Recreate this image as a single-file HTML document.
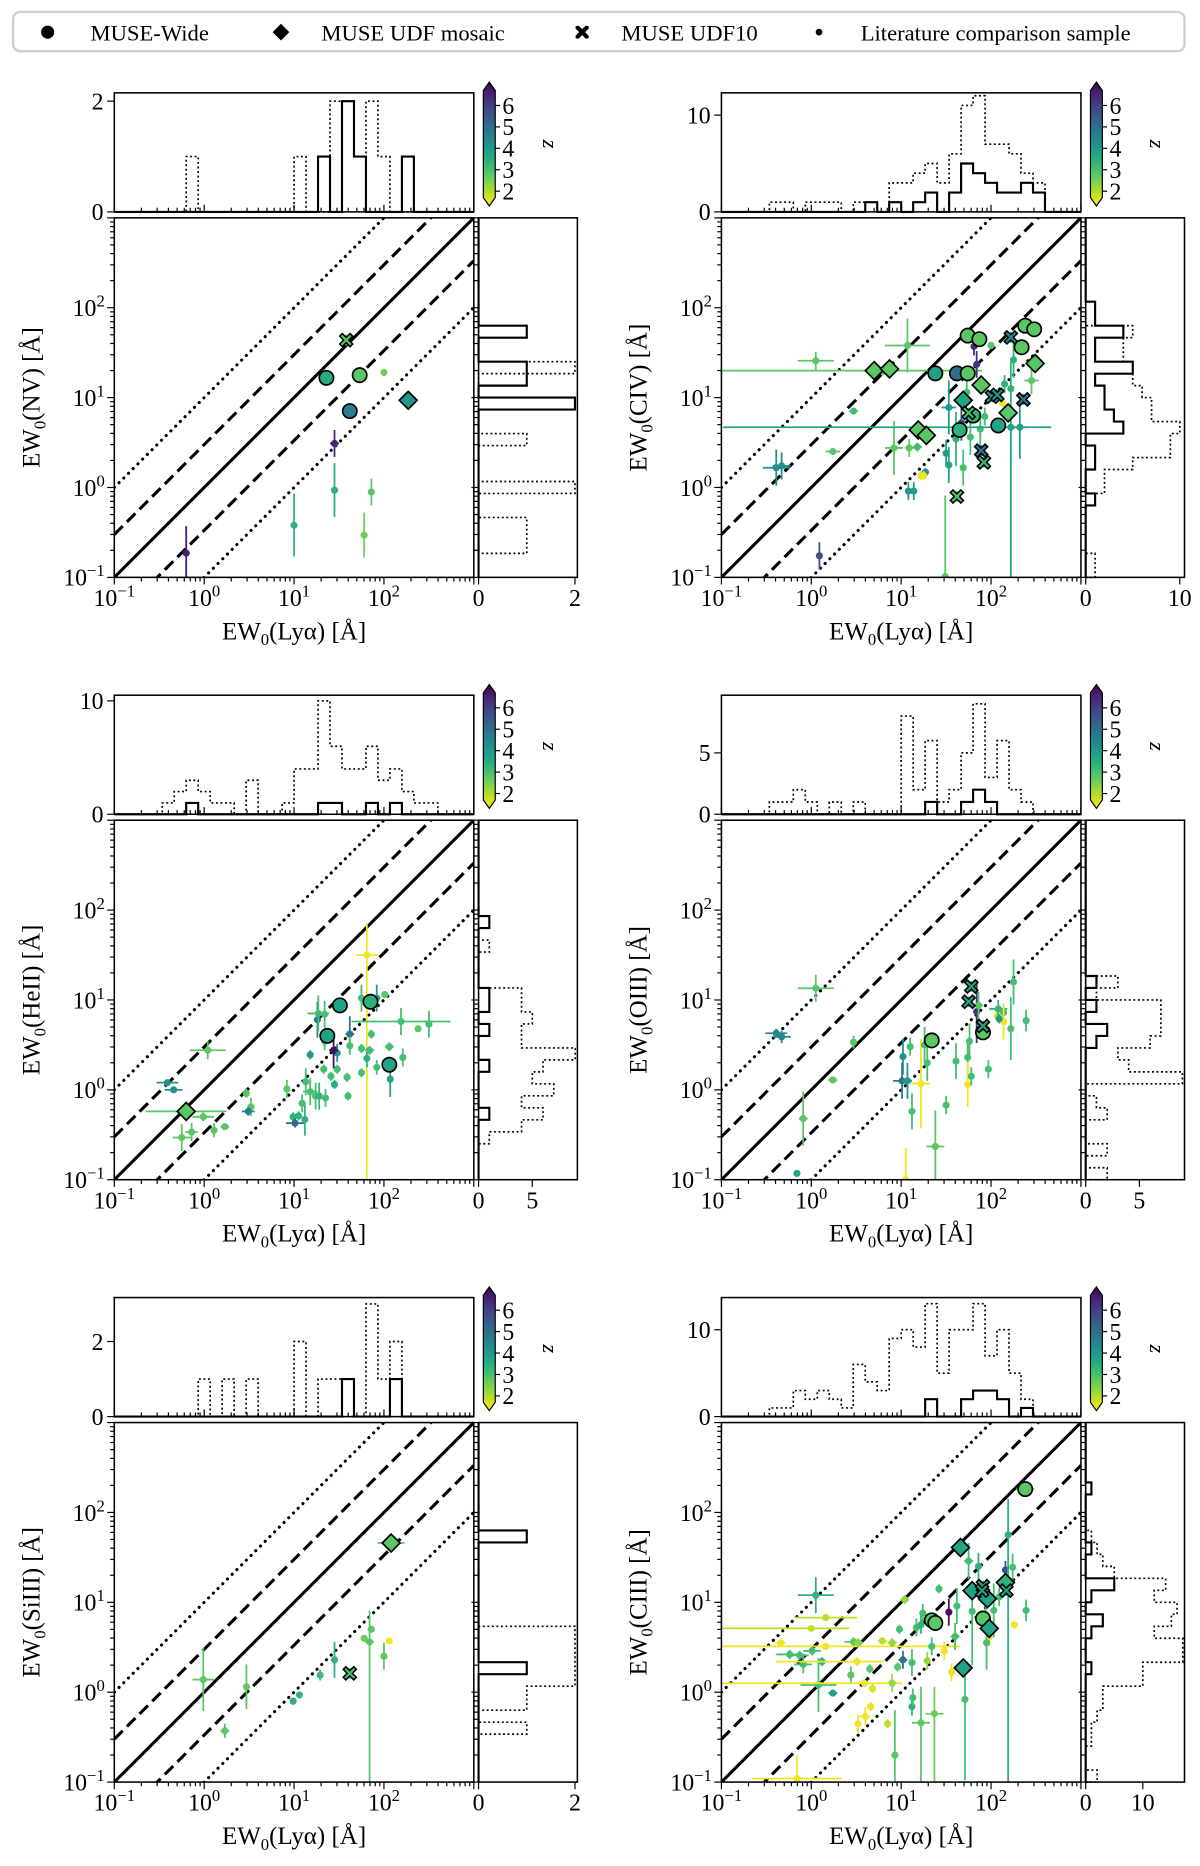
<!DOCTYPE html>
<html><head><meta charset="utf-8"><style>
html,body{margin:0;padding:0;background:#fff}
svg{display:block}
text{font-family:"Liberation Serif","DejaVu Serif",serif;fill:#000}
</style></head><body>
<svg id="fig" xmlns="http://www.w3.org/2000/svg" width="1200" height="1866" viewBox="0 0 1008 1567.5">
<g>
<rect x="11" y="10" width="984" height="33" rx="6" fill="#fff" stroke="#d0d0d0" stroke-width="2"/>
<circle cx="40" cy="27" r="5.5" fill="#000"/>
<text x="76" y="34" font-size="19">MUSE-Wide</text>
<path d="M236 20 L243 27 L236 34 L229 27 Z" fill="#000"/>
<text x="270" y="34" font-size="19">MUSE UDF mosaic</text>
<path d="M483.5 22 L486 21.5 L489 24.5 L492 21.5 L494.5 22 L494.5 24 L491.5 27 L494.5 30 L494.5 32 L492 32.5 L489 29.5 L486 32.5 L483.5 32 L483.5 30 L486.5 27 L483.5 24 Z" fill="#000"/>
<text x="522" y="34" font-size="19">MUSE UDF10</text>
<circle cx="688" cy="27" r="2.8" fill="#000"/>
<text x="723" y="34" font-size="19">Literature comparison sample</text>
</g>
</svg>
<script>
// ---------- DATA (log10 EW values; z redshift) ----------
// point format: [log EW(Lya), log EW(line), z, xerr(dex or [lo,hi]), yerr(dex or [lo,hi])]
const nvWide=[[1.36,1.22,3.6],[1.73,1.25,3.0],[1.62,0.85,4.6]];
const nvMosaic=[[2.27,0.97,4.1]];
const nvUdf10=[[1.58,1.64,3.0]];
const nvLit=[[-0.2,-0.73,6.3,0.02,0.3],[1.45,0.49,6.2,0.05,0.15],[1.0,-0.42,3.5,0.02,0.35],[1.45,-0.03,3.5,0.02,0.3],[1.86,-0.05,3.0,0.02,0.15],[1.78,-0.53,2.8,0.02,0.25],[2.0,1.28,2.8,0.02,0.04]];

const civWide=[[1.74,1.69,3.0],[1.87,1.65,3.0],[2.38,1.8,3.0],[2.48,1.76,3.0],[2.34,1.56,3.0],[1.38,1.27,3.9],[1.62,1.27,4.9],[1.74,1.27,3.0],[1.65,0.64,3.5],[2.08,0.69,3.8],[1.8,0.8,3.5]];
const civMosaic=[[0.7,1.3,3.0],[0.87,1.32,3.0],[1.89,1.14,3.0],[1.69,0.97,3.8],[2.19,0.83,3.0],[2.49,1.38,3.0],[1.19,0.64,3.0],[1.28,0.58,3.0]];
const civUdf10=[[2.22,1.67,4.4],[2.01,1.01,4.0],[2.07,1.03,4.0],[2.36,0.98,4.8],[1.75,0.83,3.2],[1.89,0.41,4.8],[1.92,0.28,3.4],[1.62,-0.1,3.0]];
const civLit=[[0.05,1.41,3.0,0.2,0.1],[1.07,1.58,3.0,0.25,0.3],[0.8,1.3,3.0,[1.8,1.1],0.05],[0.47,0.85,3.2,0.05,0.03],[0.24,0.4,3.0,0.08,0.03],[-0.39,0.22,4.3,0.15,0.2],[-0.33,0.24,4.3,0.1,0.15],[0.09,-0.76,5.5,0.02,0.15],[0.92,0.44,3.0,0.1,0.3],[1.09,0.44,3.0,0.05,0.1],[1.18,0.45,3.2,0.05,0.05],[1.22,0.13,1.9,0.03,0.05],[1.27,0.17,4.0,0.03,0.05],[1.08,-0.04,4.0,0.03,0.1],[1.14,-0.04,4.0,0.03,0.1],[1.53,0.89,4.0,0.08,0.3],[1.5,0.38,4.0,0.03,0.15],[1.53,0.25,3.8,0.03,0.2],[1.61,0.54,3.5,0.03,0.3],[1.69,0.22,3.2,0.03,0.2],[1.73,1.06,3.2,0.03,0.15],[1.84,1.37,6.0,0.03,0.15],[1.81,1.57,6.2,0.03,0.1],[1.67,0.72,5.5,0.03,0.2],[2.0,1.58,3.0,0.03,0.03],[2.15,1.15,3.5,0.03,0.1],[2.22,1.1,3.5,0.03,0.3],[2.25,1.42,3.5,0.03,0.2],[2.45,1.19,3.0,0.08,0.15],[2.13,0.94,1.8,0.03,0.05],[1.93,0.79,3.2,0.03,0.1],[1.88,0.65,3.2,0.03,0.2],[1.77,0.56,3.2,0.03,0.2],[2.32,0.67,4.0,0.1,0.35],[2.22,0.67,3.8,[3.2,0.45],[1.7,0.1]],[1.49,-0.99,3.0,0.02,[0.0,0.9]],[1.25,0.13,1.8,0.03,0.05]];

const heiiWide=[[1.51,0.94,3.8],[1.85,0.98,3.5],[1.37,0.6,3.8],[2.06,0.28,3.8]];
const heiiMosaic=[[-0.2,-0.24,3.0,0.45,0.04]];
const heiiUdf10=[];
const heiiLit=[[1.81,1.5,1.8,0.12,[2.5,0.35]],[0.04,0.44,3.0,0.2,0.1],[-0.41,0.08,4.2,0.12,0.03],[-0.34,0.0,4.2,0.1,0.03],[-0.01,-0.3,3.0,0.12,0.05],[-0.25,-0.53,3.0,0.1,0.15],[-0.14,-0.47,3.0,0.07,0.1],[0.11,-0.45,3.0,0.03,0.08],[0.23,-0.41,3.0,0.05,0.03],[0.47,-0.04,3.0,0.02,0.05],[0.52,-0.19,3.0,0.02,0.1],[0.49,-0.24,4.5,0.07,0.05],[0.92,0.01,3.0,0.03,0.1],[0.99,-0.3,3.5,0.02,0.05],[1.05,-0.29,3.5,0.02,0.05],[1.01,-0.37,5.0,0.1,0.05],[1.12,-0.33,3.5,0.03,0.18],[1.09,-0.15,3.2,0.03,0.1],[1.13,0.09,3.2,0.03,0.15],[1.18,-0.02,3.2,0.08,0.15],[1.24,-0.07,3.2,0.03,0.15],[1.28,-0.07,3.5,0.03,0.15],[1.35,-0.09,3.2,0.03,0.1],[1.18,0.39,4.0,0.02,0.05],[1.26,0.78,4.6,0.03,0.2],[1.27,0.85,3.2,0.12,0.2],[1.34,0.84,3.2,0.03,0.15],[1.33,0.23,3.2,0.02,0.05],[1.34,0.54,3.2,0.02,0.1],[1.41,0.15,3.2,0.02,0.05],[1.45,0.06,3.6,0.02,0.05],[1.48,0.41,4.2,0.03,0.1],[1.48,0.23,3.2,0.02,0.05],[1.44,0.44,6.5,0.05,0.2],[1.59,0.14,3.2,0.02,0.05],[1.6,-0.07,3.2,0.02,0.05],[1.62,0.62,4.8,0.05,0.2],[1.62,0.49,3.2,0.02,0.1],[1.75,0.46,3.2,0.02,0.05],[1.75,1.02,3.2,0.03,0.15],[1.75,0.19,3.2,0.02,0.05],[1.81,0.35,3.6,0.02,0.1],[1.84,0.44,3.2,0.05,0.05],[1.86,0.62,3.2,0.02,0.05],[1.92,0.25,3.2,0.02,0.08],[1.92,1.02,4.0,0.03,0.15],[2.01,1.06,3.0,0.02,0.03],[2.06,0.48,3.2,0.05,0.05],[2.07,0.12,3.8,0.02,0.2],[2.21,0.36,3.2,0.02,0.1],[2.19,0.76,3.2,0.55,0.15],[2.38,0.68,3.0,0.02,0.03],[2.5,0.73,3.2,0.02,0.15],[2.06,0.27,1.9,0.02,0.03]];

const oiiiWide=[[1.34,0.55,3.0],[1.91,0.64,3.0]];
const oiiiMosaic=[];
const oiiiUdf10=[[1.78,1.15,3.8],[1.75,0.98,3.8],[1.91,0.71,3.8]];
const oiiiLit=[[0.05,1.13,3.0,0.2,0.15],[-0.39,0.63,4.4,0.12,0.05],[-0.33,0.59,4.4,0.1,0.07],[0.47,0.53,3.0,0.03,0.07],[0.24,0.11,3.0,0.05,0.02],[-0.09,-0.32,3.0,0.05,0.3],[-0.16,-0.93,3.8,0.01,0.01],[1.02,0.37,4.2,0.02,0.2],[1.01,0.1,4.8,0.1,0.2],[1.07,0.1,4.0,0.05,0.2],[1.1,0.48,3.2,0.03,0.1],[1.12,-0.24,3.2,0.02,0.2],[1.22,0.07,1.8,0.1,0.5],[1.26,0.5,3.2,0.02,0.2],[1.29,0.3,3.2,0.02,0.2],[1.38,-0.63,3.0,0.1,0.4],[1.5,-0.17,3.2,0.02,0.1],[1.61,0.32,3.2,0.02,0.2],[1.74,0.36,3.2,0.02,0.2],[1.74,0.06,1.8,0.02,0.25],[1.76,0.54,3.2,0.02,0.2],[1.78,0.15,3.2,0.02,0.1],[1.84,0.87,6.0,0.02,0.35],[1.86,0.94,3.0,0.05,0.15],[1.97,0.23,3.2,0.02,0.1],[2.07,0.82,2.0,0.02,0.05],[2.08,0.9,3.4,0.1,0.1],[2.14,0.86,3.2,0.02,0.1],[2.14,0.76,1.8,0.02,0.2],[2.09,0.79,4.0,0.02,0.05],[2.22,0.68,3.2,0.02,0.35],[2.25,1.2,3.2,0.03,0.25],[2.39,0.77,3.2,0.02,0.12],[1.05,-1.0,1.8,0.01,[0,0.35]]];

const siiiiWide=[];
const siiiiMosaic=[[2.08,1.66,3.0,0.15,0.05]];
const siiiiUdf10=[[1.62,0.21,3.2]];
const siiiiLit=[[-0.01,0.14,3.0,0.12,0.35],[0.23,-0.43,3.0,0.05,0.08],[0.47,0.06,3.0,0.02,0.25],[0.99,-0.1,3.5,0.02,0.04],[1.06,-0.03,3.5,0.02,0.03],[1.29,0.19,3.3,0.02,0.06],[1.45,0.36,3.5,0.02,0.2],[1.78,0.6,2.8,0.02,0.03],[1.86,0.7,3.0,0.02,0.03],[1.84,0.56,3.0,0.05,[1.6,0.35]],[2.0,0.4,3.0,0.02,0.15],[2.06,0.57,1.8,0.02,0.02]];

const ciiiWide=[[2.38,2.26,3.0,0.1,0.03],[1.34,0.8,3.0],[1.38,0.77,3.0],[1.91,0.82,3.0]];
const ciiiMosaic=[[1.66,1.61,3.8,0.1,0.05],[1.79,1.13,3.8],[1.96,1.04,3.8],[1.98,0.71,3.8],[1.69,0.27,3.8],[2.16,1.22,3.5]];
const ciiiUdf10=[[1.91,1.18,3.8],[1.9,1.13,3.8],[2.17,1.13,3.8]];
const ciiiLit=[[0.05,1.08,3.5,0.2,0.2],[0.16,0.83,2.2,0.35,0.02],[0.0,0.71,2.2,[1.0,0.42],0.0],[-0.34,0.55,1.8,0.05,0.02],[0.16,0.51,1.8,[1.16,1.5],0.0],[-0.24,0.42,3.2,0.15,0.05],[-0.13,0.41,3.2,0.1,0.05],[-0.09,0.31,3.2,0.1,0.1],[0.01,0.46,3.2,0.1,0.05],[0.12,0.34,3.5,0.05,0.05],[0.08,0.08,3.2,0.2,0.3],[0.24,-0.01,3.8,0.05,0.02],[0.44,0.19,3.0,0.02,0.1],[0.51,0.34,1.8,[0.9,0.3],0.05],[0.47,0.56,3.0,0.1,0.05],[0.52,0.55,2.6,0.05,0.05],[0.59,0.1,1.8,[1.6,0.42],0.05],[0.65,0.26,3.0,0.02,0.05],[0.68,0.04,2.0,0.02,0.05],[0.66,-0.16,1.8,0.02,0.05],[0.6,-0.27,1.8,0.06,0.1],[0.52,-0.35,1.8,0.02,0.1],[0.79,0.57,2.2,0.05,0.02],[0.9,0.55,2.5,0.05,0.05],[0.9,0.1,2.5,0.02,0.1],[0.85,-0.35,2.2,0.02,0.05],[0.93,-0.7,3.0,0.02,[0.3,0.5]],[0.98,0.7,3.2,0.02,0.05],[0.96,0.28,3.0,0.02,0.05],[1.02,0.36,4.8,0.05,0.1],[1.04,1.03,2.5,0.05,0.05],[1.12,0.33,3.2,0.02,0.15],[1.12,-0.16,3.5,0.02,0.1],[1.13,-0.06,3.2,0.02,0.1],[1.22,-0.34,3.0,0.1,[0.7,0.4]],[1.17,0.72,3.2,0.02,0.1],[1.22,0.75,3.5,0.02,0.1],[1.24,0.88,3.2,0.02,0.1],[1.29,0.35,2.5,0.02,0.1],[1.34,0.51,3.2,0.02,0.1],[1.37,-0.24,2.8,0.1,[0.8,0.3]],[1.42,1.15,3.2,0.02,0.05],[1.48,0.46,1.8,0.02,0.1],[1.53,0.89,6.5,0.02,0.15],[1.56,0.22,1.8,0.02,0.1],[1.6,0.62,3.2,0.05,0.15],[1.62,0.96,3.2,0.02,0.2],[1.71,-0.08,3.2,0.02,[0.9,0.3]],[1.75,1.46,3.2,0.05,0.2],[1.79,0.9,3.2,0.02,[0.6,0.3]],[1.86,1.4,3.5,0.02,0.15],[1.94,0.85,3.2,0.02,0.2],[1.98,0.61,1.8,0.02,0.1],[2.03,0.91,3.2,0.02,0.3],[2.09,1.06,3.2,0.05,0.1],[2.16,1.36,5.5,0.02,0.1],[2.19,1.75,3.5,0.02,[2.75,0.4]],[2.24,1.39,3.2,0.02,0.15],[2.26,0.75,1.8,0.02,0.03],[2.39,0.91,3.2,0.02,0.12],[-0.16,-0.96,1.8,0.5,0.25],[1.95,0.55,3.2,0.02,0.3]];

// histogram counts, 30 log bins from 10^-1 to 10^3
const nvTopSolid=[0,0,0,0,0,0,0,0,0,0,0,0,0,0,0,0,0,1,0,2,1,0,0,0,1,0,0,0,0,0];
const nvTopDot=[0,0,0,0,0,0,1,0,0,0,0,0,0,0,0,1,0,0,2,2,1,2,1,0,0,0,0,0,0,0];
const nvRightSolid=[0,0,0,0,0,0,0,0,0,0,0,0,0,0,2,0,1,1,0,0,1,0,0,0,0,0,0,0,0,0];
const nvRightDot=[0,0,1,1,1,0,0,2,0,0,0,1,0,0,0,0,0,2,0,0,0,0,0,0,0,0,0,0,0,0];
const civTopSolid=[0,0,0,0,0,0,0,0,0,0,0,0,1,0,1,0,1,2,0,2,5,4,3,2,2,3,2,0,0,0];
const civTopDot=[0,0,0,0,1,1,0,1,1,1,0,1,1,0,3,3,4,5,3,6,11,12,7,7,6,4,3,0,0,0];
const civRightSolid=[0,0,0,0,0,0,1,0,0,1,1,0,4,3,2,2,1,5,1,1,4,1,1,0,0,0,0,0,0,0];
const civRightDot=[1,1,0,0,0,0,1,2,2,5,9,9,10,7,7,6,5,5,4,4,5,0,0,0,0,0,0,0,0,0];
const heiiTopSolid=[0,0,0,0,0,0,1,0,0,0,0,0,0,0,0,0,0,1,1,0,0,1,0,1,0,0,0,0,0,0];
const heiiTopDot=[0,0,0,0,1,2,3,2,1,1,0,3,0,0,1,4,4,10,6,4,4,6,3,4,2,1,1,0,0,0];
const heiiRightSolid=[0,0,0,0,0,1,0,0,0,1,0,0,1,0,1,1,0,0,0,0,0,1,0,0,0,0,0,0,0,0];
const heiiRightDot=[0,0,0,1,4,6,4,7,5,6,9,4,4,5,4,4,0,0,0,1,0,0,0,0,0,0,0,0,0,0];
const oiiiTopSolid=[0,0,0,0,0,0,0,0,0,0,0,0,0,0,0,0,0,1,0,0,1,2,1,0,0,0,0,0,0,0];
const oiiiTopDot=[0,0,0,0,1,1,2,1,0,1,0,1,0,0,0,8,2,6,1,2,5,9,3,6,2,1,0,0,0,0];
const oiiiRightSolid=[0,0,0,0,0,0,0,0,0,0,0,1,2,0,1,0,1,0,0,0,0,0,0,0,0,0,0,0,0,0];
const oiiiRightDot=[2,0,2,0,0,2,1,0,9,4,3,6,7,7,7,1,3,0,0,0,0,0,0,0,0,0,0,0,0,0];
const siiiiTopSolid=[0,0,0,0,0,0,0,0,0,0,0,0,0,0,0,0,0,0,0,1,0,0,0,1,0,0,0,0,0,0];
const siiiiTopDot=[0,0,0,0,0,0,0,1,0,1,0,1,0,0,0,2,0,1,1,0,0,3,1,2,0,0,0,0,0,0];
const siiiiRightSolid=[0,0,0,0,0,0,0,0,0,1,0,0,0,0,0,0,0,0,0,0,1,0,0,0,0,0,0,0,0,0];
const siiiiRightDot=[0,0,0,0,1,0,1,1,2,2,2,2,2,0,0,0,0,0,0,0,0,0,0,0,0,0,0,0,0,0];
const ciiiTopSolid=[0,0,0,0,0,0,0,0,0,0,0,0,0,0,0,0,0,2,0,0,2,3,3,2,0,1,0,0,0,0];
const ciiiTopDot=[0,0,0,0,1,1,3,2,3,2,1,6,4,3,9,10,8,13,5,10,10,13,7,10,5,2,0,0,0,0];
const ciiiRightSolid=[0,0,0,0,0,0,0,0,0,1,0,0,1,3,0,1,5,0,0,1,0,0,0,0,1,0,0,0,0,0];
const ciiiRightDot=[2,0,0,1,1,2,3,3,10,10,17,17,12,15,16,12,14,5,3,2,1,0,0,0,0,0,0,0,0,0];

const mainTicks=[-1,0,1,2,3];
const labelledTicks=[-1,0,1,2];
const zTicks=[2,3,4,5,6];
const nvHistTicks=[0,2], civHistTicks=[0,10], heiiTopTicks=[0,10], heiiRightTicks=[0,5], oiiiHistTicks=[0,5], siiiiHistTicks=[0,2], ciiiHistTicks=[0,10];

// ---------- RENDERING ----------
const NS="http://www.w3.org/2000/svg";
const svg=document.getElementById('fig');
function mk(tag,attrs,parent){const e=document.createElementNS(NS,tag);for(const k in attrs)e.setAttribute(k,attrs[k]);(parent||svg).appendChild(e);return e;}
const VMIN=1.7,VMAX=6.7;
const VIR=["#440154","#482475","#414487","#355f8d","#2a788e","#21918c","#22a884","#44bf70","#7ad151","#bddf26","#fde725"];
function hex(h){return [parseInt(h.substr(1,2),16),parseInt(h.substr(3,2),16),parseInt(h.substr(5,2),16)];}
function zcol(z){let t=1-(z-VMIN)/(VMAX-VMIN);t=Math.max(0,Math.min(1,t));const f=t*10,i=Math.min(9,Math.floor(f)),u=f-i;const a=hex(VIR[i]),b=hex(VIR[i+1]);return 'rgb('+a.map((v,k)=>Math.round(v+(b[k]-v)*u)).join(',')+')';}

const LO=-1,HI=3,NB=30,W=302,TH=100;
const panels=[
 {key:'nv',label:'NV',x0:96,y0:183,wide:nvWide,mos:nvMosaic,udf:nvUdf10,lit:nvLit,ts:nvTopSolid,td:nvTopDot,rs:nvRightSolid,rd:nvRightDot,tmax:2.15,rmax:2.05,tt:nvHistTicks,rt:nvHistTicks},
 {key:'civ',label:'CIV',x0:606,y0:183,wide:civWide,mos:civMosaic,udf:civUdf10,lit:civLit,ts:civTopSolid,td:civTopDot,rs:civRightSolid,rd:civRightDot,tmax:12.3,rmax:10.5,tt:civHistTicks,rt:civHistTicks},
 {key:'heii',label:'HeII',x0:96,y0:689,wide:heiiWide,mos:heiiMosaic,udf:heiiUdf10,lit:heiiLit,ts:heiiTopSolid,td:heiiTopDot,rs:heiiRightSolid,rd:heiiRightDot,tmax:10.5,rmax:9.2,tt:heiiTopTicks,rt:heiiRightTicks},
 {key:'oiii',label:'OIII',x0:606,y0:689,wide:oiiiWide,mos:oiiiMosaic,udf:oiiiUdf10,lit:oiiiLit,ts:oiiiTopSolid,td:oiiiTopDot,rs:oiiiRightSolid,rd:oiiiRightDot,tmax:9.7,rmax:9.2,tt:oiiiHistTicks,rt:oiiiHistTicks},
 {key:'siiii',label:'SiIII',x0:96,y0:1195,wide:siiiiWide,mos:siiiiMosaic,udf:siiiiUdf10,lit:siiiiLit,ts:siiiiTopSolid,td:siiiiTopDot,rs:siiiiRightSolid,rd:siiiiRightDot,tmax:3.17,rmax:2.05,tt:siiiiHistTicks,rt:siiiiHistTicks},
 {key:'ciii',label:'CIII',x0:606,y0:1195,wide:ciiiWide,mos:ciiiMosaic,udf:ciiiUdf10,lit:ciiiLit,ts:ciiiTopSolid,td:ciiiTopDot,rs:ciiiRightSolid,rd:ciiiRightDot,tmax:13.7,rmax:17.3,tt:ciiiHistTicks,rt:ciiiHistTicks}
];

function tickLabel(g,x,y,exp,anchor){
  const t=mk('text',{x:x,y:y,'font-size':20,'text-anchor':anchor},g);
  t.appendChild(document.createTextNode('10'));
  const s=mk('tspan',{dy:-8,'font-size':14},t);
  s.textContent=(exp<0?'\u2212':'')+Math.abs(exp);
  return t;
}
function errs(e){return Array.isArray(e)?e:[e,e];}

panels.forEach(p=>{
  const g=mk('g',{});
  
  
  const px=l=>p.x0+(l-LO)/(HI-LO)*W;
  const py=l=>p.y0+W-(l-LO)/(HI-LO)*W;
  const yb=p.y0+W;
  const clipId='clip-'+p.key;
  const cp=mk('clipPath',{id:clipId},g);mk('rect',{x:p.x0,y:p.y0,width:W,height:W},cp);
  const lines=mk('g',{'clip-path':'url(#'+clipId+')'},g);
  
  
  [[0,'none'],[Math.log10(3),'10 5'],[-Math.log10(3),'10 5'],[1,'0.1 5.5'],[-1,'0.1 5.5']].forEach(([o,d])=>{
    const l=mk('line',{x1:px(LO),y1:py(LO+o),x2:px(HI),y2:py(HI+o),stroke:'#000','stroke-width':2.6,'stroke-dasharray':d,'stroke-linecap':d.startsWith('0.1')?'round':'butt'},lines);
    
    
  });
  const pts=mk('g',{'clip-path':'url(#'+clipId+')'},g);
  function errbar(d,def){const c=zcol(d[2]);const xe=errs(d[3]!==undefined?d[3]:def[0]),ye=errs(d[4]!==undefined?d[4]:def[1]);
    const x=px(d[0]),y=py(d[1]);
    mk('line',{x1:px(d[0]-xe[0]),y1:y,x2:px(d[0]+xe[1]),y2:y,stroke:c,'stroke-width':1.5},pts);
    mk('line',{x1:x,y1:py(d[1]-ye[0]),x2:x,y2:py(d[1]+ye[1]),stroke:c,'stroke-width':1.5},pts);}
  p.lit.forEach(d=>{errbar(d,[0.04,0.12]);const c=mk('circle',{cx:px(d[0]),cy:py(d[1]),r:3,fill:zcol(d[2])},pts);
    
    });
  p.wide.forEach(d=>{errbar(d,[0.03,0.04]);const c=mk('circle',{cx:px(d[0]),cy:py(d[1]),r:6,fill:zcol(d[2]),stroke:'#000','stroke-width':1.4},pts);
    
    });
  p.mos.forEach(d=>{errbar(d,[0.03,0.04]);const x=px(d[0]),y=py(d[1]),s=7.5;
    const c=mk('path',{d:`M${x} ${y-s} L${x+s} ${y} L${x} ${y+s} L${x-s} ${y} Z`,fill:zcol(d[2]),stroke:'#000','stroke-width':1.4},pts);
    
    });
  p.udf.forEach(d=>{errbar(d,[0.03,0.06]);const x=px(d[0]),y=py(d[1]),a=5.5,b=2.2;
    const dd=`M${x-a} ${y-a+b} L${x-a+b} ${y-a} L${x} ${y-b} L${x+a-b} ${y-a} L${x+a} ${y-a+b} L${x+b} ${y} L${x+a} ${y+a-b} L${x+a-b} ${y+a} L${x} ${y+b} L${x-a+b} ${y+a} L${x-a} ${y+a-b} L${x-b} ${y} Z`;
    const c=mk('path',{d:dd,fill:zcol(d[2]),stroke:'#000','stroke-width':1.3},pts);
    
    });
  const fr=mk('rect',{x:p.x0,y:p.y0,width:W,height:W,fill:'none',stroke:'#000','stroke-width':1.3},g);
  
  
  const tk=mk('g',{stroke:'#000','stroke-width':1},g);
  for(let e=LO;e<HI;e++)for(let k=2;k<10;k++){const l=e+Math.log10(k);
    mk('line',{x1:px(l),y1:yb,x2:px(l),y2:yb+3.5},tk);mk('line',{x1:p.x0,y1:py(l),x2:p.x0-3.5,y2:py(l)},tk);
    mk('line',{x1:px(l),y1:p.y0-5,x2:px(l),y2:p.y0-8.5},tk);mk('line',{x1:p.x0+W+4,y1:py(l),x2:p.x0+W+0.5,y2:py(l)},tk);}
  mainTicks.forEach(e=>{mk('line',{x1:px(e),y1:yb,x2:px(e),y2:yb+6},tk);mk('line',{x1:p.x0,y1:py(e),x2:p.x0-6,y2:py(e)},tk);
    mk('line',{x1:px(e),y1:p.y0-5,x2:px(e),y2:p.y0-11},tk);mk('line',{x1:p.x0+W+4,y1:py(e),x2:p.x0+W-2,y2:py(e)},tk);});
  labelledTicks.forEach(e=>{
    const xl=tickLabel(g,px(e),yb+24,e,'middle');
    const yl=tickLabel(g,p.x0-8,py(e)+7,e,'end');});
  const xt=mk('text',{x:p.x0+W/2,y:yb+52,'font-size':21,'text-anchor':'middle'},g);
  
  xt.appendChild(document.createTextNode('EW'));let s1=mk('tspan',{dy:5,'font-size':14},xt);s1.textContent='0';
  let s2=mk('tspan',{dy:-5},xt);s2.textContent='(Ly\u03B1) [\u00C5]';
  const yt=mk('text',{x:0,y:0,'font-size':21,'text-anchor':'middle',transform:`translate(${p.x0-63},${p.y0+W/2}) rotate(-90)`},g);
  
  yt.appendChild(document.createTextNode('EW'));let s3=mk('tspan',{dy:5,'font-size':14},yt);s3.textContent='0';
  let s4=mk('tspan',{dy:-5},yt);s4.textContent='('+p.label+') [\u00C5]';
  const ty0=p.y0-105,tyb=p.y0-5;
  const thy=c=>tyb-c/p.tmax*TH;
  const th=mk('g',{},g);
  function topPath(arr,dash,name){let d=`M${px(LO)} ${tyb}`;arr.forEach((c,i)=>{const e0=LO+i*(HI-LO)/NB,e1=LO+(i+1)*(HI-LO)/NB;d+=` L${px(e0)} ${thy(c)} L${px(e1)} ${thy(c)}`;});d+=` L${px(HI)} ${tyb}`;
    const pa=mk('path',{d:d,fill:'none',stroke:'#000','stroke-width':dash?1.4:1.8,'stroke-dasharray':dash?'1.6 2.2':'none'},th);
    }
  topPath(p.td,true,'top-hist-literature');topPath(p.ts,false,'top-hist-muse');
  mk('rect',{x:p.x0,y:ty0,width:W,height:TH,fill:'none',stroke:'#000','stroke-width':1.3},th);
  p.tt.forEach(v=>{mk('line',{x1:p.x0,y1:thy(v),x2:p.x0-6,y2:thy(v),stroke:'#000'},th);
    const t=mk('text',{x:p.x0-9,y:thy(v)+7,'font-size':20,'text-anchor':'end'},th);t.textContent=v;
    });
  const rx0=p.x0+306,RW=83;
  const rhx=c=>rx0+c/p.rmax*RW;
  const rh=mk('g',{},g);
  function rightPath(arr,dash,name){let d=`M${rx0} ${py(LO)}`;arr.forEach((c,i)=>{const e0=LO+i*(HI-LO)/NB,e1=LO+(i+1)*(HI-LO)/NB;d+=` L${rhx(c)} ${py(e0)} L${rhx(c)} ${py(e1)}`;});d+=` L${rx0} ${py(HI)}`;
    const pa=mk('path',{d:d,fill:'none',stroke:'#000','stroke-width':dash?1.4:1.8,'stroke-dasharray':dash?'1.6 2.2':'none'},rh);
    }
  rightPath(p.rd,true,'right-hist-literature');rightPath(p.rs,false,'right-hist-muse');
  mk('rect',{x:rx0,y:p.y0,width:RW,height:W,fill:'none',stroke:'#000','stroke-width':1.3},rh);
  p.rt.forEach(v=>{mk('line',{x1:rhx(v),y1:yb,x2:rhx(v),y2:yb+6,stroke:'#000'},rh);
    const t=mk('text',{x:rhx(v),y:yb+24,'font-size':20,'text-anchor':'middle'},rh);t.textContent=v;
    });
  const cb=mk('g',{},g);
  const cx0=p.x0+310,cw=10,ct=ty0-2,cbt=ty0+88;
  const gid='grad-'+p.key;const lg=mk('linearGradient',{id:gid,x1:0,y1:0,x2:0,y2:1},cb);
  VIR.forEach((c,i)=>mk('stop',{offset:i/10,'stop-color':c},lg));
  mk('path',{d:`M${cx0} ${ct} L${cx0+cw/2} ${ct-7} L${cx0+cw} ${ct} L${cx0+cw} ${cbt} L${cx0+cw/2} ${cbt+7} L${cx0} ${cbt} Z`,fill:`url(#${gid})`,stroke:'#000','stroke-width':1},cb);
  const cy=z=>cbt-(z-VMIN)/(VMAX-VMIN)*(cbt-ct);
  zTicks.forEach(z=>{mk('line',{x1:cx0+cw,y1:cy(z),x2:cx0+cw+4,y2:cy(z),stroke:'#000'},cb);
    const t=mk('text',{x:cx0+cw+6,y:cy(z)+7,'font-size':20},cb);t.textContent=z;
    });
  const zl=mk('text',{x:0,y:0,'font-size':19,'font-style':'italic',transform:`translate(${cx0+cw+40},${(ct+cbt)/2}) rotate(90)`,'text-anchor':'middle'},cb);
  zl.textContent='z';
});
</script>
</body></html>
